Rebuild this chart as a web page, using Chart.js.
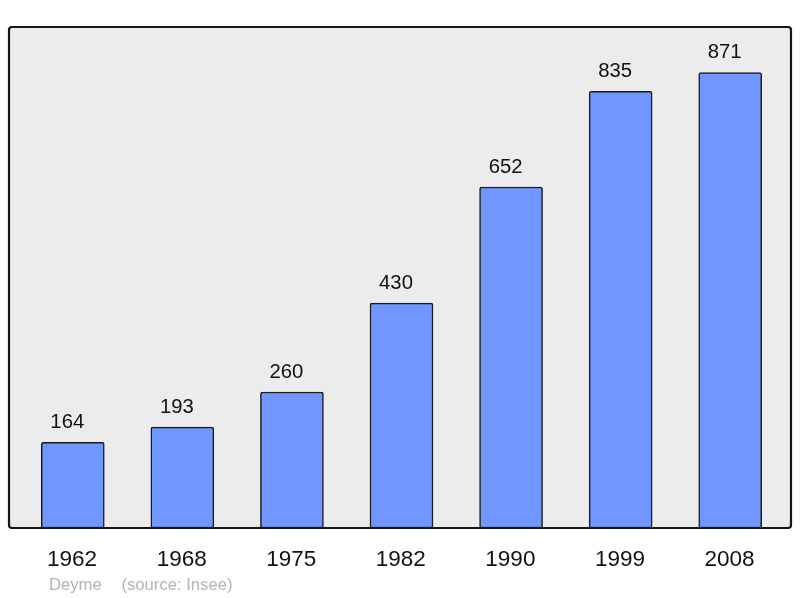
<!DOCTYPE html>
<html>
<head>
<meta charset="utf-8">
<script src="https://cdn.jsdelivr.net/npm/chart.js@4"></script>
<style>
  html, body { margin: 0; padding: 0; background: #fff; }
  #wrap { width: 800px; height: 598px; }
</style>
</head>
<body>
<div id="wrap"><canvas id="popChart" width="800" height="598"></canvas></div>
<script>
const years = ['1962', '1968', '1975', '1982', '1990', '1999', '2008'];
const population = [164, 193, 260, 430, 652, 835, 871];
const footerName = 'Deyme';
const footerSource = '(source: Insee)';

const FONT = '"Liberation Sans", Arial, sans-serif';

// text in the original is slightly wider than normal, so stretch it a bit
function wideText(ctx, text, x, y, sx) {
  ctx.save();
  ctx.translate(x, y);
  ctx.scale(sx, 1);
  ctx.fillText(text, 0, 0);
  ctx.restore();
}

const framePlugin = {
  id: 'frame',
  beforeDatasetsDraw(chart) {
    const { ctx, chartArea } = chart;
    ctx.save();
    ctx.beginPath();
    ctx.roundRect(9, chartArea.top, 782, chartArea.bottom - chartArea.top, 3);
    ctx.fillStyle = '#ececec';
    ctx.fill();
    ctx.restore();
  },
  afterDatasetsDraw(chart) {
    const { ctx, chartArea } = chart;
    const xScale = chart.scales.x;
    ctx.save();
    ctx.beginPath();
    ctx.roundRect(9, chartArea.top, 782, chartArea.bottom - chartArea.top, 3);
    ctx.lineWidth = 2.2;
    ctx.strokeStyle = '#161616';
    ctx.stroke();

    ctx.fillStyle = '#111';
    ctx.textAlign = 'center';
    ctx.textBaseline = 'alphabetic';

    // value labels above bars
    ctx.font = '19.5px ' + FONT;
    chart.getDatasetMeta(0).data.forEach((bar, i) => {
      wideText(ctx, String(population[i]), bar.x - 5.5, bar.y - 14.5, 1.04);
    });

    // year labels under the frame
    ctx.font = '22.5px ' + FONT;
    years.forEach((y, i) => {
      wideText(ctx, y, xScale.getPixelForValue(i) - 0.7, 565.5, 1.0);
    });

    ctx.font = '16px ' + FONT;
    ctx.fillStyle = '#b3b3b3';
    ctx.textAlign = 'left';
    wideText(ctx, footerName, 49, 590, 1.04);
    wideText(ctx, footerSource, 121.5, 590, 1.04);
    ctx.restore();
  }
};

new Chart(document.getElementById('popChart'), {
  type: 'bar',
  data: {
    labels: years,
    datasets: [{
      data: population,
      backgroundColor: '#7097ff',
      borderColor: '#1a1a1a',
      borderWidth: 1.5,
      borderRadius: 2,
      borderSkipped: false,
      barThickness: 63
    }]
  },
  options: {
    responsive: false,
    animation: false,
    layout: { padding: { left: 18, right: 15, top: 27, bottom: 70 } },
    plugins: { legend: { display: false }, tooltip: { enabled: false } },
    scales: {
      x: { display: false },
      y: { display: false, min: 0, max: 958 }
    }
  },
  plugins: [framePlugin]
});
</script>
</body>
</html>
